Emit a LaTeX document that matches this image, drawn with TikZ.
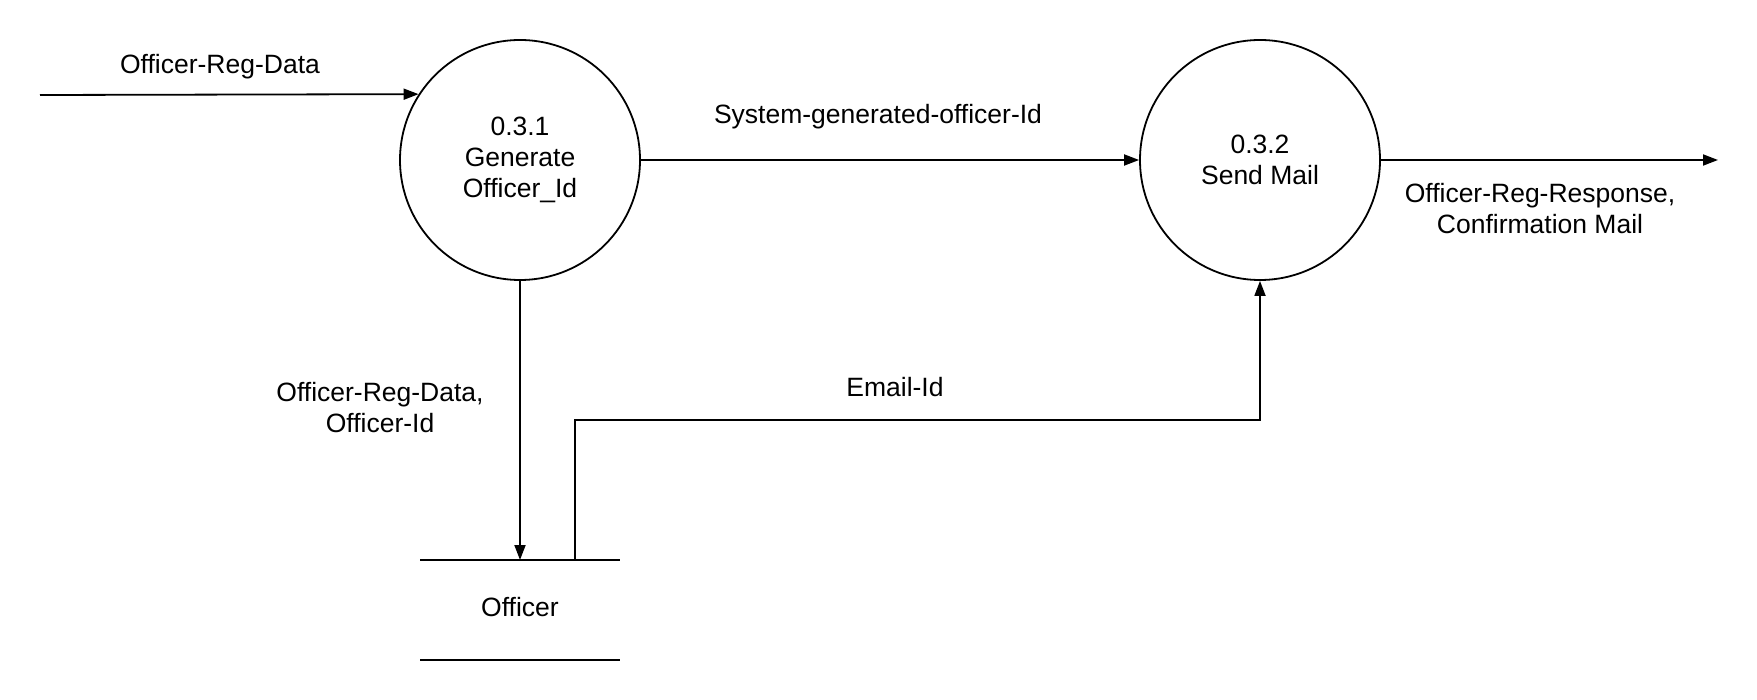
\documentclass[tikz,border=0pt]{standalone}
\usepackage{fontspec}
\setmainfont{Liberation Sans}
\usetikzlibrary{arrows.meta}
\begin{document}
\begin{tikzpicture}[x=1pt,y=-1pt,
  flow/.style={line width=1.8pt,-{Triangle[length=15pt,width=11pt]}},
  plain/.style={line width=1.8pt},
  proc/.style={circle,draw,line width=1.8pt,minimum size=240pt,inner sep=0pt,align=center,font=\fontsize{26.5}{31}\selectfont},
  lbl/.style={align=center,font=\fontsize{26.5}{31}\selectfont,inner sep=0pt}]
\useasboundingbox[fill=white] (0,0) rectangle (1757,700);
\node[proc] (c1) at (520,160) {0.3.1\\Generate\\Officer\_Id};
\node[proc] (c2) at (1260,160) {0.3.2\\Send Mail};
\coordinate (in) at (40,95);
\coordinate (out) at (1718,160);
\node[lbl] (store) at (520,607) {Officer};
\coordinate (stl) at (420,560);
\coordinate (str) at (620,560);
\coordinate (sbl) at (420,660);
\coordinate (sbr) at (620,660);
\coordinate (stin) at (520,560);
\coordinate (stout) at (575,560);
\coordinate (bend1) at (575,420);
\draw[plain] (stl) -- (str);
\draw[plain] (sbl) -- (sbr);
\draw[flow] (in) -- (c1.147.2);
\draw[flow] (c1.east) -- (c2.west);
\draw[flow] (c2.east) -- (out);
\draw[flow] (c1.south) -- (stin);
\draw[flow] (stout) -- (bend1) -| (c2.south);
\node[lbl] (l1) at (220,67) {Officer-Reg-Data};
\node[lbl] (l2) at (878,117) {System-generated-officer-Id};
\node[lbl] (l3) at (1540,209) {Officer-Reg-Response,\\Confirmation Mail};
\node[lbl] (l4) at (380,408) {Officer-Reg-Data,\\Officer-Id};
\node[lbl] (l5) at (895,387) {Email-Id};
\end{tikzpicture}
\end{document}
